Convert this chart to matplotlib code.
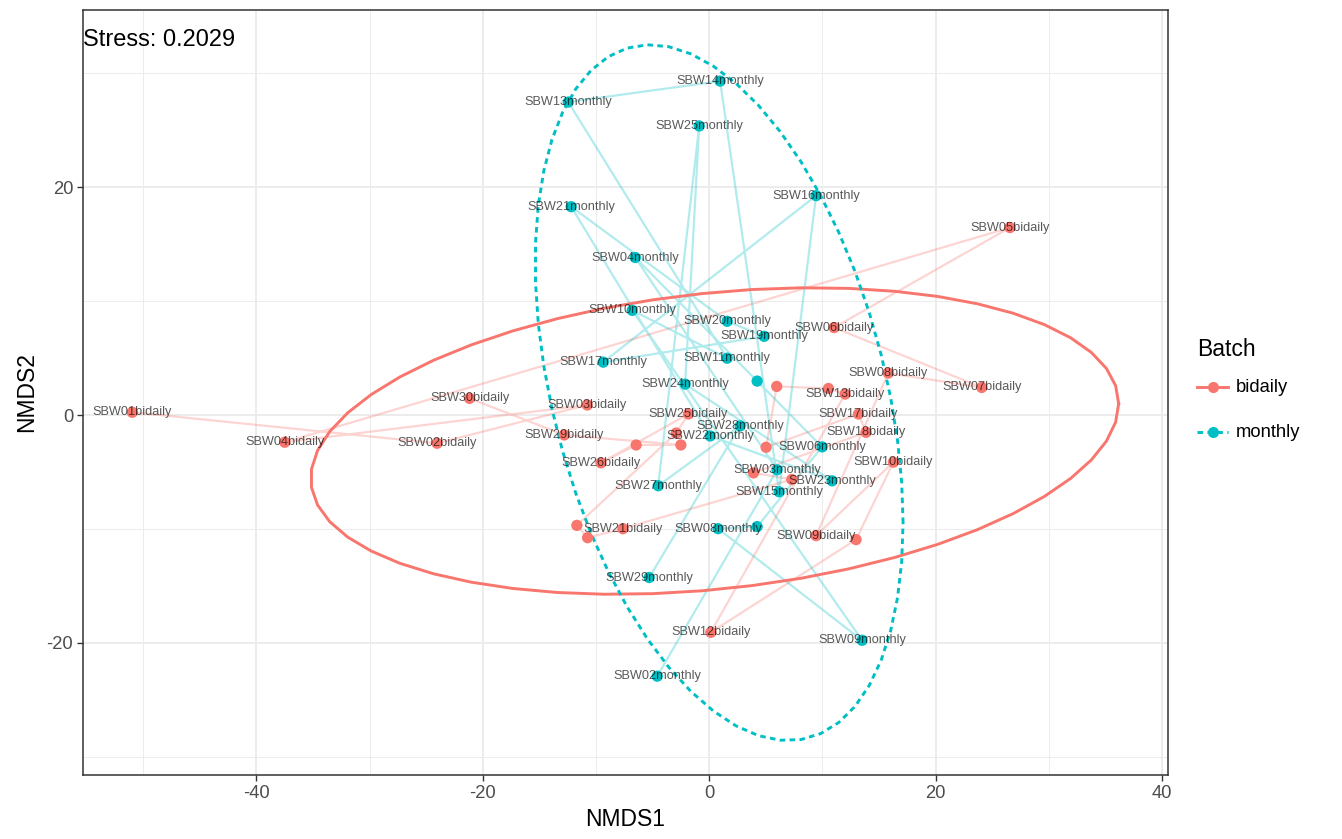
import numpy as np
import matplotlib
matplotlib.use("Agg")
import matplotlib.pyplot as plt
from matplotlib.lines import Line2D

# ---------------- data ----------------
bidaily_ids = [1, 2, 3, 4, 5, 6, 7, 8, 9, 10, 11, 12, 13, 14, 15, 16, 17, 18, 19, 20,
               21, 22, 23, 24, 25, 26, 27, 28, 29, 30]
bidaily_x = [-50.97, -24.04, -10.77, -37.50, 26.58, 11.04, 24.08, 15.83, 9.45, 16.28,
             12.98, 0.15, 12.01, 10.54, 5.97, 5.03, 13.19, 13.86, 3.92, 7.30,
             -7.62, -10.74, -11.69, -2.91, -1.83, -9.56, -6.45, -2.50, -12.80, -21.17]
bidaily_y = [0.24, -2.48, 0.88, -2.39, 16.46, 7.68, 2.42, 3.68, -10.59, -4.14,
             -10.94, -19.08, 1.84, 2.33, 2.51, -2.83, 0.09, -1.52, -5.08, -5.66,
             -9.98, -10.77, -9.69, -1.58, 0.09, -4.20, -2.63, -2.63, -1.75, 1.46]
bidaily_labelled = [1, 2, 3, 4, 5, 6, 7, 8, 9, 10, 12, 13, 17, 18, 21, 25, 26, 29, 30]

monthly_ids = [2, 3, 4, 5, 6, 7, 8, 9, 10, 11, 13, 14, 15, 16, 17, 19, 20, 21, 22, 23,
               24, 25, 27, 28, 29]
monthly_x = [-4.59, 6.00, -6.53, 4.24, 9.98, 4.24, 0.79, 13.51, -6.80, 1.59,
             -12.45, 0.97, 6.18, 9.45, -9.36, 4.86, 1.59, -12.19, 0.09, 10.86,
             -2.12, -0.88, -4.50, 2.74, -5.30]
monthly_y = [-22.93, -4.81, 13.83, 2.98, -2.80, -9.80, -9.98, -19.78, 9.19, 4.99,
             27.48, 29.32, -6.74, 19.26, 4.64, 6.91, 8.23, 18.29, -1.84, -5.78,
             2.71, 25.38, -6.21, -0.96, -14.27]
monthly_labelled = [2, 3, 4, 6, 8, 9, 10, 11, 13, 14, 15, 16, 17, 19, 20, 21, 22, 23,
                    24, 25, 27, 28, 29]

stress = 0.2029
x_ticks = [-40, -20, 0, 20, 40]
y_ticks = [-20, 0, 20]

# ---------------- helpers ----------------
def cov_trob(x, nu=5, maxit=25, tol=0.01):
    n, p = x.shape
    wt = np.ones(n)
    loc = x.mean(axis=0)
    w = np.sqrt(wt)
    X = x - loc
    for _ in range(maxit):
        w0 = w
        X = x - loc
        U, d, Vt = np.linalg.svd(np.sqrt(w / w.sum())[:, None] * X, full_matrices=False)
        wX = X @ Vt.T @ np.diag(1.0 / d)
        Q = (wX ** 2).sum(axis=1)
        w = (wt * (nu + p)) / (nu + Q)
        loc = (w[:, None] * x).sum(axis=0) / w.sum()
        if np.all(np.abs(w - w0) < tol):
            break
    sw = np.sqrt(w)[:, None] * X
    cov = sw.T @ sw / wt.sum()
    return cov, loc


def t_ellipse(xs, ys, level=0.95, segments=51):
    pts = np.column_stack([xs, ys])
    cov, center = cov_trob(pts)
    R = np.linalg.cholesky(cov).T
    n = len(xs)
    d2 = n - 1
    f = (d2 / 2.0) * ((1 - level) ** (-2.0 / d2) - 1)   # qf(level, 2, d2)
    radius = np.sqrt(2 * f)
    ang = np.arange(segments + 1) * 2 * np.pi / segments
    circ = np.column_stack([np.cos(ang), np.sin(ang)])
    ell = center + radius * (circ @ R)
    return ell[:, 0], ell[:, 1]

# ---------------- figure ----------------
plt.rcParams['axes.unicode_minus'] = False
W, H = 1342, 839
fig = plt.figure(figsize=(W / 100, H / 100), dpi=100)
plt.rcParams['font.family'] = ['Liberation Sans', 'DejaVu Sans']
L, R_, T, B = 83, 1168, 10, 775
ax = fig.add_axes([L / W, 1 - B / H, (R_ - L) / W, (B - T) / H])

red = '#F8766D'
cyan = '#00BFC4'
dash = (0, (1.9, 1.5))

groups = [
    ('bidaily', bidaily_ids, bidaily_x, bidaily_y, bidaily_labelled, red, '-'),
    ('monthly', monthly_ids, monthly_x, monthly_y, monthly_labelled, cyan, dash),
]

all_x, all_y = [], []
for name, ids, xs, ys, lab, col, ls in groups:
    ex, ey = t_ellipse(np.array(xs), np.array(ys))
    all_x += list(xs) + list(ex)
    all_y += list(ys) + list(ey)
    # path in sample order
    ax.plot(xs, ys, color=col, alpha=0.3, lw=1.6, zorder=2, solid_capstyle='butt')
    ax.plot(ex, ey, color=col, lw=2.1, ls=ls, zorder=3)
    ax.scatter(xs, ys, s=66, color=col, edgecolors='none', zorder=4)
    for i, x, y in zip(ids, xs, ys):
        if i in lab:
            ax.text(x, y, f"SBW{i:02d}{name}", ha='center', va='center',
                    fontsize=9.2, color='black', alpha=0.65, zorder=5)

xmin, xmax = min(all_x), max(all_x)
ymin, ymax = min(all_y), max(all_y)
dx, dy = (xmax - xmin) * 0.05, (ymax - ymin) * 0.05
ax.set_xlim(xmin - dx, xmax + dx)
ax.set_ylim(ymin - dy, ymax + dy)

ax.set_xticks(x_ticks)
ax.set_yticks(y_ticks)
ax.set_xticks([-50, -30, -10, 10, 30], minor=True)
ax.set_yticks([-30, -10, 10, 30], minor=True)
ax.grid(True, which='major', color='#EBEBEB', lw=1.3, zorder=0)
ax.grid(True, which='minor', color='#EBEBEB', lw=0.65, zorder=0)
ax.set_axisbelow(True)
ax.tick_params(axis='both', which='major', length=4.2, width=1.0, color='#333333',
               labelsize=13.2, labelcolor='#4D4D4D', pad=3)
ax.tick_params(axis='both', which='minor', length=0)
for s in ax.spines.values():
    s.set_color('#333333')
    s.set_linewidth(1.1)
ax.set_xlabel('NMDS1', fontsize=16.5, labelpad=4)
ax.set_ylabel('NMDS2', fontsize=16.5, labelpad=6)

ax.text(0.0, 0.961, f"Stress: {stress}", transform=ax.transAxes, ha='left', va='center',
        fontsize=17, color='black', zorder=6)

# legend (drawn manually in pixel-based figure coordinates)
def fx(px):
    return px / W

def fy(py):
    return 1 - py / H

fig.text(fx(1197), fy(349), 'Batch', fontsize=16.5, ha='left', va='center')
for k, (name, col, ls) in enumerate([('bidaily', red, '-'), ('monthly', cyan, dash)]):
    yy = fy(387 + 45 * k)
    fig.add_artist(Line2D([fx(1197), fx(1228)], [yy, yy], color=col, lw=2.1, ls=ls,
                          transform=fig.transFigure))
    fig.add_artist(Line2D([fx(1212.5)], [yy], color=col, marker='o', ms=8, mec='none',
                          ls='none', transform=fig.transFigure))
    fig.text(fx(1236), yy, name, fontsize=13.2, ha='left', va='center')

fig.savefig('out.png', dpi=100)
